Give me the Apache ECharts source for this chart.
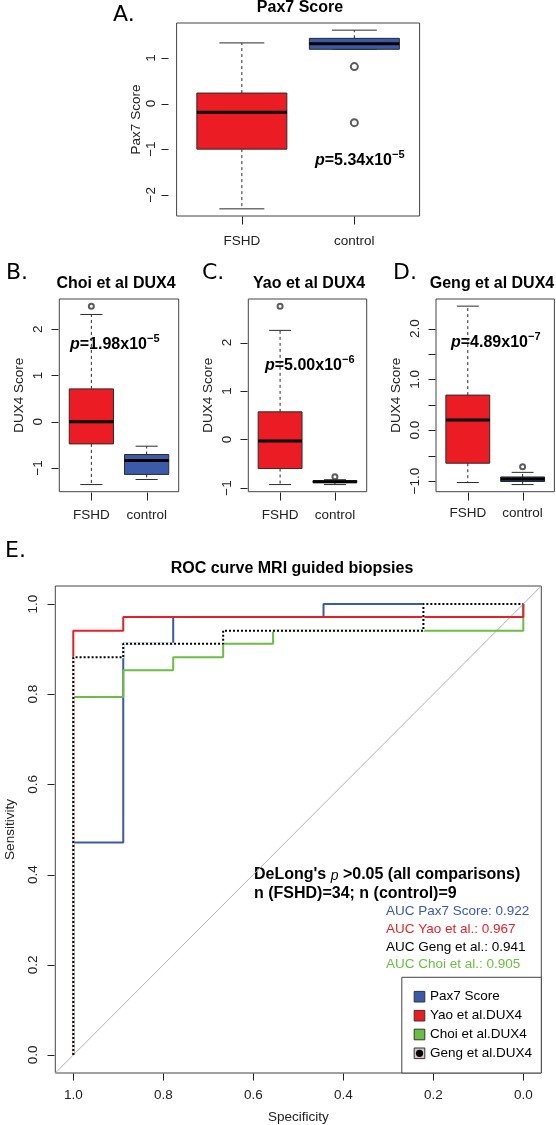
<!DOCTYPE html>
<html>
<head>
<meta charset="utf-8">
<script src="https://cdn.jsdelivr.net/npm/echarts@6/dist/echarts.min.js"></script>
<style>
html,body{margin:0;padding:0;background:#fff;}
#chart{width:556px;height:1125px;}
</style>
</head>
<body>
<div id="chart"></div>
<script>
// ---------------- DATA ----------------
const boxCats = ['FSHD', 'control'];
// [min, Q1, median, Q3, max] per group
const pax7Box = [[-2.31, -1.00, -0.19, 0.23, 1.33], [1.19, 1.19, 1.31, 1.43, 1.61]];
const pax7Out = [[], [0.81, -0.42]];
const choiBox = [[-1.36, -0.48, 0.00, 0.71, 2.32], [-1.25, -1.14, -0.84, -0.71, -0.53]];
const choiOut = [[2.50], []];
const yaoBox = [[-0.93, -0.60, -0.03, 0.57, 2.25], [-0.93, -0.89, -0.87, -0.85, -0.83]];
const yaoOut = [[2.75], [-0.77]];
const gengBox = [[-1.03, -0.65, 0.20, 0.69, 2.44], [-1.07, -1.01, -0.96, -0.92, -0.83]];
const gengOut = [[], [-0.72]];

const pax7Ticks = [-2, -1, 0, 1];
const choiTicks = [-1, 0, 1, 2];
const yaoTicks = [-1, 0, 1, 2];
const gengTicks = [-1.0, -0.5, 0.0, 0.5, 1.0, 1.5, 2.0];
const gengLabelTicks = [-1.0, 0.0, 1.0, 2.0];

const pTexts = ['=5.34x10', '=1.98x10', '=5.00x10', '=4.89x10'];
const pExps = ['\u22125', '\u22125', '\u22126', '\u22127'];

// ROC curves: [specificity, sensitivity]
const rocPax7 = [[1, 0], [1, 0.471], [0.889, 0.471], [0.889, 0.912], [0.778, 0.912], [0.778, 0.971], [0.444, 0.971], [0.444, 1], [0, 1]];
const rocYao = [[1, 0], [1, 0.941], [0.889, 0.941], [0.889, 0.971], [0, 0.971], [0, 1]];
const rocChoi = [[1, 0], [1, 0.794], [0.889, 0.794], [0.889, 0.853], [0.778, 0.853], [0.778, 0.882], [0.667, 0.882], [0.667, 0.912], [0.556, 0.912], [0.556, 0.941], [0, 0.941], [0, 1]];
const rocGeng = [[1, 0], [1, 0.882], [0.889, 0.882], [0.889, 0.912], [0.667, 0.912], [0.667, 0.941], [0.222, 0.941], [0.222, 1], [0, 1]];
const chanceLine = [[1.04, -0.04], [-0.04, 1.04]];
const rocTicks = [0, 0.2, 0.4, 0.6, 0.8, 1.0];

const legendNames = ['Pax7 Score', 'Yao et al.DUX4', 'Choi et al.DUX4', 'Geng et al.DUX4'];
const aucLabels = ['AUC Pax7 Score: 0.922', 'AUC Yao et al.: 0.967', 'AUC Geng et al.: 0.941', 'AUC Choi et al.: 0.905'];

// ---------------- STYLE ----------------
const FONT = '"Liberation Sans", Arial, sans-serif';
const RED = '#ec1c24', BLUE = '#3b5aa8', GREEN = '#6cbd45', BLACK = '#000000';
const boxFill = [RED, BLUE];
const aucColors = [BLUE, '#e3242b', BLACK, GREEN];
const legendColors = [BLUE, RED, GREEN, '#d8c4c8'];

const chart = echarts.init(document.getElementById('chart'), null, {renderer: 'canvas'});

function yRange(box, out) {
  let lo = Infinity, hi = -Infinity;
  box.forEach(s => s.forEach(v => { lo = Math.min(lo, v); hi = Math.max(hi, v); }));
  out.forEach(a => a.forEach(v => { lo = Math.min(lo, v); hi = Math.max(hi, v); }));
  const pad = 0.04 * (hi - lo);
  return [lo - pad, hi + pad];
}

function renderBox(params, api) {
  const x = api.value(0), mn = api.value(1), q1 = api.value(2), md = api.value(3), q3 = api.value(4), mx = api.value(5);
  const c = (xx, yy) => api.coord([xx, yy]);
  const tl = c(x - 0.4, q3), br = c(x + 0.4, q1);
  const capL = c(x - 0.2, mx)[0], capR = c(x + 0.2, mx)[0];
  const pMx = c(x, mx), pQ3 = c(x, q3), pQ1 = c(x, q1), pMn = c(x, mn), pMd = c(x, md);
  const ink = '#2a2a2a';
  return {
    type: 'group',
    children: [
      {type: 'line', shape: {x1: pQ3[0], y1: pQ3[1], x2: pMx[0], y2: pMx[1]}, style: {stroke: ink, lineWidth: 1, lineDash: [3, 3]}},
      {type: 'line', shape: {x1: pQ1[0], y1: pQ1[1], x2: pMn[0], y2: pMn[1]}, style: {stroke: ink, lineWidth: 1, lineDash: [3, 3]}},
      {type: 'line', shape: {x1: capL, y1: pMx[1], x2: capR, y2: pMx[1]}, style: {stroke: ink, lineWidth: 1}},
      {type: 'line', shape: {x1: capL, y1: pMn[1], x2: capR, y2: pMn[1]}, style: {stroke: ink, lineWidth: 1}},
      {type: 'rect', shape: {x: tl[0], y: tl[1], width: br[0] - tl[0], height: br[1] - tl[1]}, style: {fill: boxFill[params.dataIndex], stroke: ink, lineWidth: 1}},
      {type: 'line', shape: {x1: tl[0], y1: pMd[1], x2: br[0], y2: pMd[1]}, style: {stroke: '#000', lineWidth: 3}}
    ]
  };
}

const grids = [], xAxes = [], yAxes = [], series = [];
const axisTxt = {fontSize: 13.5, color: '#222', fontFamily: FONT};
const noLine = {show: false, onZero: false};

function makeGrid(l, t, w, h) {
  return {left: l, top: t, width: w, height: h, show: true, borderColor: '#444', borderWidth: 1,
    backgroundColor: 'transparent', containLabel: false, outerBoundsMode: 'none'};
}

// tick marks placed through the axis scale (api.coord), drawn outside the plot frame
function tickSeries(gi, vals, dir, edgeVal, offset, len) {
  series.push({type: 'custom', xAxisIndex: gi, yAxisIndex: gi, clip: false, silent: true, z: 5,
    data: vals.map(v => [v]),
    renderItem: (p, api) => {
      const v = api.value(0);
      if (dir === 'y') {
        const pt = api.coord([edgeVal, v]);
        const x0 = Math.round(pt[0] - offset) - 0.5, y0 = Math.round(pt[1]) + 0.5;
        return {type: 'line', shape: {x1: x0, y1: y0, x2: x0 - len, y2: y0}, style: {stroke: '#222', lineWidth: 1}};
      }
      const pt = api.coord([v, edgeVal]);
      const x0 = Math.round(pt[0]) + 0.5, y0 = Math.round(pt[1] + offset) + 0.5;
      return {type: 'line', shape: {x1: x0, y1: y0, x2: x0, y2: y0 + len}, style: {stroke: '#222', lineWidth: 1}};
    }
  });
}

function boxPanel(rect, box, out, ticks, labelTicks, fmt, name, o) {
  const gi = grids.length;
  grids.push(makeGrid(rect[0], rect[1], rect[2], rect[3]));
  xAxes.push({type: 'value', gridIndex: gi, position: 'bottom', min: 0.42, max: 2.58, splitLine: {show: false}, axisLine: noLine,
    axisTick: {show: false},
    axisLabel: Object.assign({customValues: [1, 2], margin: o.xMargin, formatter: v => boxCats[Math.round(v) - 1]}, axisTxt)});
  const r = yRange(box, out);
  yAxes.push({type: 'value', gridIndex: gi, position: 'left', min: r[0], max: r[1], offset: o.yOffset || 0, splitLine: {show: false}, axisLine: noLine,
    axisTick: {show: false},
    axisLabel: Object.assign({customValues: labelTicks, rotate: 90, margin: o.yMargin, formatter: fmt}, axisTxt),
    name: name, nameLocation: 'middle', nameRotate: 90, nameGap: o.nameGap, nameTextStyle: Object.assign({}, axisTxt)});
  series.push({type: 'custom', xAxisIndex: gi, yAxisIndex: gi, renderItem: renderBox, encode: {x: 0, y: [1, 2, 3, 4, 5]},
    data: box.map((s, i) => [i + 1].concat(s)), silent: true, z: 2});
  const pts = [];
  out.forEach((arr, i) => arr.forEach(v => pts.push([i + 1, v])));
  series.push({type: 'scatter', xAxisIndex: gi, yAxisIndex: gi, data: pts, symbol: 'emptyCircle', symbolSize: o.outSize,
    itemStyle: {color: '#333', borderColor: '#333', borderWidth: 0.8}, silent: true, z: 3});
  tickSeries(gi, ticks, 'y', 0.42, o.yOffset || 0, 7);
  tickSeries(gi, [1, 2], 'x', r[0], 0, 8);
}

const intFmt = v => String(Math.round(v)).replace('-', '\u2212');
const oneFmt = v => v.toFixed(1).replace('-', '\u2212');

boxPanel([176.6, 23, 243, 193], pax7Box, pax7Out, pax7Ticks, pax7Ticks, intFmt, 'Pax7 Score', {xMargin: 18, yMargin: 10, nameGap: 22, yOffset: 8, outSize: 7});
boxPanel([59.3, 299, 119.4, 192.7], choiBox, choiOut, choiTicks, choiTicks, intFmt, 'DUX4 Score', {xMargin: 17, yMargin: 14, nameGap: 33, outSize: 5});
boxPanel([248.3, 299, 118.4, 192.7], yaoBox, yaoOut, yaoTicks, yaoTicks, intFmt, 'DUX4 Score', {xMargin: 17, yMargin: 14, nameGap: 33, outSize: 5});
boxPanel([436, 299, 118.4, 192.7], gengBox, gengOut, gengTicks, gengLabelTicks, oneFmt, 'DUX4 Score', {xMargin: 15, yMargin: 14, nameGap: 33, outSize: 5});

// ROC panel
const gE = grids.length;
grids.push(makeGrid(55.3, 586, 486, 487));
xAxes.push({type: 'value', gridIndex: gE, position: 'bottom', min: -0.04, max: 1.04, inverse: true, splitLine: {show: false}, axisLine: noLine,
  axisTick: {show: false},
  axisLabel: Object.assign({customValues: rocTicks, margin: 15, formatter: oneFmt}, axisTxt),
  name: 'Specificity', nameLocation: 'middle', nameGap: 37, nameTextStyle: Object.assign({}, axisTxt)});
yAxes.push({type: 'value', gridIndex: gE, position: 'left', min: -0.04, max: 1.04, splitLine: {show: false}, axisLine: noLine,
  axisTick: {show: false},
  axisLabel: Object.assign({customValues: rocTicks, rotate: 90, margin: 15, formatter: oneFmt}, axisTxt),
  name: 'Sensitivity', nameLocation: 'middle', nameRotate: 90, nameGap: 38, nameTextStyle: Object.assign({}, axisTxt)});

function rocLine(data, color, width, type, z) {
  series.push({type: 'line', xAxisIndex: gE, yAxisIndex: gE, data: data, showSymbol: false, symbol: 'none', silent: true,
    lineStyle: {color: color, width: width, type: type, cap: 'butt'}, z: z, clip: true, animation: false});
}
rocLine(chanceLine, '#b0b0b0', 1, 'solid', 1);
rocLine(rocPax7, BLUE, 2, 'solid', 2);
rocLine(rocChoi, GREEN, 2, 'solid', 3);
rocLine(rocYao, '#e5202a', 2, 'solid', 4);
rocLine(rocGeng, '#ffffff', 2, 'solid', 5);
rocLine(rocGeng, BLACK, 2, [2, 2], 6);
tickSeries(gE, rocTicks, 'y', 1.04, 0, 7);
tickSeries(gE, rocTicks, 'x', -0.04, 0, 7);

// ---------------- TEXT / ANNOTATIONS ----------------
const graphics = [];
function txt(x, y, text, font, fill, align) {
  graphics.push({type: 'text', x: x, y: y, silent: true, style: {text: text, font: font, fill: fill || '#000', align: align || 'left', verticalAlign: 'middle'}});
}
const LETTER = '22px "DejaVu Sans", sans-serif';
txt(113, 15, 'A.', LETTER);
txt(6, 273, 'B.', LETTER);
txt(202, 273, 'C.', LETTER);
txt(393, 273, 'D.', LETTER);
txt(5, 551, 'E.', LETTER);

const TITLE = 'bold 16px ' + FONT;
txt(300, 8, 'Pax7 Score', TITLE, '#000', 'center');
txt(116, 284, 'Choi et al DUX4', TITLE, '#000', 'center');
txt(309, 284, 'Yao et al DUX4', TITLE, '#000', 'center');
txt(492, 284, 'Geng et al DUX4', TITLE, '#000', 'center');
txt(292, 569, 'ROC curve MRI guided biopsies', TITLE, '#000', 'center');

const pPos = [[315, 159], [70, 343], [265, 364], [451, 341]];
const rich = {
  i: {fontFamily: FONT, fontSize: 16, fontWeight: 'bold', fontStyle: 'italic', lineHeight: 20, verticalAlign: 'bottom'},
  b: {fontFamily: FONT, fontSize: 16, fontWeight: 'bold', lineHeight: 20, verticalAlign: 'bottom'},
  s: {fontFamily: FONT, fontSize: 11, fontWeight: 'bold', lineHeight: 12, verticalAlign: 'top'},
  n: {fontFamily: FONT, fontSize: 14, fontStyle: 'italic', lineHeight: 20, verticalAlign: 'bottom'}
};
pTexts.forEach((t, k) => {
  graphics.push({type: 'text', x: pPos[k][0], y: pPos[k][1], silent: true,
    style: {text: '{i|p}{b|' + t + '}{s|' + pExps[k] + '}', rich: rich, align: 'left', verticalAlign: 'middle', fill: '#000'}});
});

graphics.push({type: 'text', x: 254, y: 873, silent: true,
  style: {text: "{b|DeLong's }{n|p}{b| >0.05 (all comparisons)}", rich: rich, align: 'left', verticalAlign: 'middle', fill: '#000'}});
txt(254, 894, 'n (FSHD)=34; n (control)=9', 'bold 16px ' + FONT);
const aucY = [911.7, 929.3, 946.8, 964.3];
aucLabels.forEach((t, k) => txt(386, aucY[k], t, '13.5px ' + FONT, aucColors[k]));

// legend
graphics.push({type: 'rect', silent: true, shape: {x: 401.8, y: 977.3, width: 139.5, height: 95.7}, style: {fill: '#fff', stroke: '#444', lineWidth: 1}, z: 50});
const legY = [996.7, 1015.7, 1034.5, 1053.3];
legendNames.forEach((nm, k) => {
  graphics.push({type: 'rect', silent: true, shape: {x: 414.2, y: legY[k] - 5.3, width: 10.6, height: 10.6}, style: {fill: legendColors[k], stroke: '#333', lineWidth: 1}, z: 51});
  if (k === 3) graphics.push({type: 'circle', silent: true, shape: {cx: 419.5, cy: legY[k], r: 3.6}, style: {fill: '#000'}, z: 52});
  graphics.push({type: 'text', x: 430, y: legY[k], silent: true, z: 52, style: {text: nm, font: '13.5px ' + FONT, fill: '#000', align: 'left', verticalAlign: 'middle'}});
});

chart.setOption({
  animation: false,
  backgroundColor: '#fff',
  grid: grids,
  xAxis: xAxes,
  yAxis: yAxes,
  series: series,
  graphic: graphics
});
</script>
</body>
</html>
